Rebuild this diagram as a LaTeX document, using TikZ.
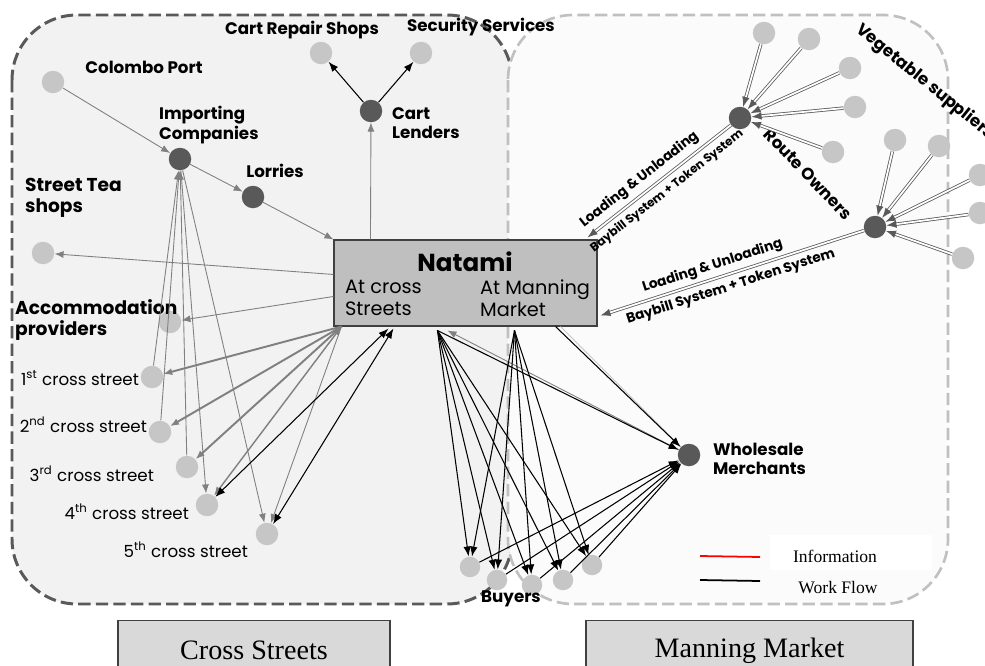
\documentclass[tikz,border=0pt]{standalone}
\usepackage{fontspec}
\setsansfont{Poppins}
\newfontfamily\bookserif{Liberation Serif}
\usepackage{tikz}
\usetikzlibrary{positioning,arrows.meta,calc,backgrounds}
\definecolor{LeftFill}{HTML}{F2F2F2}
\definecolor{RightFill}{HTML}{FBFBFB}
\definecolor{LeftDash}{HTML}{595959}
\definecolor{RightDash}{HTML}{C0C0C0}
\definecolor{SpotGray}{HTML}{C6C6C6}
\definecolor{HubGray}{HTML}{595959}
\definecolor{FeedGray}{HTML}{808080}
\definecolor{NatFill}{HTML}{BFBFBF}
\definecolor{BoxEdge}{HTML}{404040}
\definecolor{TabFill}{HTML}{D9D9D9}

\begin{document}
\begin{tikzpicture}[x=0.2mm, y=-0.2mm,
  every node/.style={font=\sffamily},
  spot/.style={circle, fill=SpotGray, minimum size=4.5mm, inner sep=0pt},
  hub/.style={circle, fill=HubGray, minimum size=4.5mm, inner sep=0pt},
  tag/.style={font=\sffamily\bfseries\fontsize{9.5}{11}\selectfont, align=left, inner sep=1pt},
  bigtag/.style={tag, font=\sffamily\bfseries\fontsize{10.6}{12}\selectfont},
  street/.style={font=\sffamily\fontsize{9.5}{11}\selectfont, anchor=east, inner sep=1pt},
  natbox/.style={draw=BoxEdge, line width=0.6pt, fill=NatFill, minimum width=52.6mm,
                 minimum height=17.2mm, inner sep=0pt},
  tab/.style={draw=BoxEdge, line width=0.6pt, fill=TabFill, minimum height=12mm,
              font=\bookserif\fontsize{16}{18}\selectfont},
  feed/.style={draw=FeedGray, line width=0.5pt, -{Latex[length=1.8mm,width=1.4mm]}},
  fan/.style={feed, line width=1.1pt},
  work/.style={draw=black, line width=0.6pt, -{Latex[length=2mm,width=1.5mm]}},
  supply/.style={draw=HubGray, double=white, double distance=1pt, line width=0.45pt,
                 -{Latex[length=2mm,width=1.5mm]}},
  lbl/.style={font=\sffamily\bfseries\fontsize{7.8}{8.5}\selectfont, sloped, inner sep=0.5pt},
  key/.style={font=\bookserif\fontsize{10}{12}\selectfont, inner sep=1pt}]

  \useasboundingbox (0,0) rectangle (985,666);

  % ---- the two market areas ----
  \begin{scope}[on background layer]
    \fill[white] (0,0) rectangle (985,666);
    \draw[LeftDash, line width=1.7pt, dash pattern=on 7pt off 3pt, fill=LeftFill,
          rounded corners=13mm] (12,15) rectangle (512,604);
    \draw[RightDash, line width=1.5pt, dash pattern=on 7pt off 3pt, fill=RightFill,
          rounded corners=13mm] (508,15) rectangle (948,604);
  \end{scope}

  % ---- Natami in the middle ----
  \node[natbox] (nat) at (465.5,283) {};
  \node[font=\sffamily\bfseries\fontsize{14}{16}\selectfont] (natt) at (465,262) {Natami};
  \node[anchor=west, align=left, font=\sffamily\fontsize{11}{12.5}\selectfont, inner sep=1pt]
        (natl) at (343,298) {At cross\\Streets};
  \node[anchor=west, align=left, font=\sffamily\fontsize{11}{12.5}\selectfont, inner sep=1pt]
        (natr) at (478,298) {At Manning\\Market};

  \coordinate (natlend) at ($(nat.north west)+(37,0)$);
  \coordinate (nattea)  at ($(nat.north west)+(0,35)$);
  \coordinate (natacc)  at ($(nat.north west)+(0,57)$);
  \coordinate (natfan)  at ($(nat.south west)+(8,0)$);
  \coordinate (natc4)   at ($(nat.south west)+(55,2)$);
  \coordinate (natc5)   at ($(nat.south west)+(60,2)$);
  \coordinate (natbl)   at ($(nat.south west)+(104,4)$);
  \coordinate (natwb)   at ($(nat.south west)+(114,4)$);
  \coordinate (natbr)   at ($(nat.south west)+(181,4)$);
  \coordinate (natwh)   at ($(nat.south east)+(-42,0)$);
  \coordinate (natwg)   at ($(nat.south east)+(-37,0)$);
  \coordinate (natro1)  at ($(nat.north east)+(-10,-2)$);
  \coordinate (natro2)  at ($(nat.south east)+(3,-11)$);

  % ---- cross streets side ----
  \node[spot] (port) at (53,82)  {};
  \node[tag] (portl) at (144,67) {Colombo Port};
  \node[hub]  (imp)  at (180,159) {};
  \node[tag, anchor=west] (impl) at (157,125) {Importing\\Companies};
  \node[hub]  (lor)  at (253,197) {};
  \node[tag] (lorl) at (275,171) {Lorries};
  \node[hub]  (lend) at (371,111) {};
  \node[tag, anchor=west] (lendl) at (390,123) {Cart\\Lenders};
  \node[spot] (rep)  at (321,53) {};
  \node[tag] (repl) at (302,30) {Cart Repair Shops};
  \node[spot] (sec)  at (421,53) {};
  \node[tag] (secl) at (481,27) {Security Services};
  \node[spot] (tea)  at (43,253) {};
  \node[bigtag, anchor=west] (teal) at (23,198) {Street Tea\\shops};
  \node[spot] (acc)  at (170,322) {};
  \node[bigtag, anchor=west] (accl) at (13,320) {Accommodation\\providers};

  \node[spot] (c1) at (152,377) {};
  \node[spot] (c2) at (160,432) {};
  \node[spot] (c3) at (187,467) {};
  \node[spot] (c4) at (207,505) {};
  \node[spot] (c5) at (267,534) {};
  \node[street] (c1l) at (141,378) {1\textsuperscript{st} cross street};
  \node[street] (c2l) at (149,425) {2\textsuperscript{nd} cross street};
  \node[street] (c3l) at (156,474) {3\textsuperscript{rd} cross street};
  \node[street] (c4l) at (191,512) {4\textsuperscript{th} cross street};
  \node[street] (c5l) at (250,550) {5\textsuperscript{th} cross street};

  % ---- manning market side ----
  \node[hub] (whole) at (689,455) {};
  \node[tag, anchor=west] (wholel) at (711,459) {Wholesale\\Merchants};

  \node[spot, minimum size=4.1mm] (buy1) at (470,567) {};
  \node[spot, minimum size=4.1mm] (buy2) at (497,580) {};
  \node[spot, minimum size=4.1mm] (buy3) at (532,585) {};
  \node[spot, minimum size=4.1mm] (buy4) at (563,580) {};
  \node[spot, minimum size=4.1mm] (buy5) at (592,565) {};
  \node[tag] (buyl) at (511,599) {Buyers};

  \node[hub] (ro1) at (740,118) {};
  \node[hub] (ro2) at (875,227) {};
  \node[tag, rotate=-46] (rol) at (808,174) {Route Owners};

  \node[spot] (veg1)  at (764,33)  {};
  \node[spot] (veg2)  at (809,39)  {};
  \node[spot] (veg3)  at (850,68)  {};
  \node[spot] (veg4)  at (855,107) {};
  \node[spot] (veg5)  at (833,152) {};
  \node[spot] (veg6)  at (895,140) {};
  \node[spot] (veg7)  at (939,146) {};
  \node[spot] (veg8)  at (980,175) {};
  \node[spot] (veg9)  at (980,213) {};
  \node[spot] (veg10) at (963,258) {};
  \node[tag, rotate=-39] (vegl) at (925,82) {Vegetable suppliers};

  % ---- gray flows ----
  \draw[feed] (port) -- (imp);
  \draw[feed] (imp) -- (lor);
  \draw[feed] (lor) -- (nat.north west);
  \draw[feed] (natlend) -- (lend);
  \draw[feed] (nattea) -- (tea);
  \draw[feed] (natacc) -- (acc);
  \draw[fan] (natfan) -- (c1);
  \draw[fan] (natfan) -- (c2);
  \draw[fan] (natfan) -- (c3);
  \draw[feed, line width=0.8pt, <->, >={Latex[length=1.8mm,width=1.4mm]}] (natfan) -- (c4);
  \draw[feed] (natfan) -- (c5);
  \draw[feed] (c1) -- (imp);
  \draw[feed] (c2) -- (imp);
  \draw[feed] (c3) -- (imp);
  \draw[feed] (imp) -- (c4);
  \draw[feed] (imp) -- (c5);
  \draw[feed] (whole) -- (natwb);
  \draw[draw=SpotGray, line width=0.5pt] (natwg) -- (whole);

  % ---- work flow ----
  \draw[work] (lend) -- (rep);
  \draw[work] (lend) -- (sec);
  \draw[work, <->, >={Latex[length=2mm,width=1.5mm]}] (natc4) -- (c4);
  \draw[work, <->, >={Latex[length=2mm,width=1.5mm]}] (natc5) -- (c5);
  \draw[work] (natbl) -- (whole);
  \draw[work] (natwh) -- (whole);
  \foreach \b in {1,...,5} {
    \draw[work] (natbl) -- (buy\b);
    \draw[work] (natbr) -- (buy\b);
    \draw[work] (buy\b) -- (whole);
  }

  % ---- suppliers and route owners ----
  \foreach \v in {1,...,5} \draw[supply] (veg\v) -- (ro1);
  \foreach \v in {6,...,10} \draw[supply] (veg\v) -- (ro2);
  \draw[supply] (ro1) -- node[lbl, above=1mm, pos=0.58] {Loading \& Unloading}
        node[lbl, below=1mm, pos=0.5, font=\sffamily\bfseries\fontsize{6.8}{7.5}\selectfont]
        {Baybill System + Token System} (natro1);
  \draw[supply] (ro2) -- node[lbl, above=0.8mm, pos=0.56] {Loading \& Unloading}
        node[lbl, below=0.8mm, pos=0.52] {Baybill System + Token System} (natro2);

  % ---- legend ----
  \node[fill=white, minimum width=32.4mm, minimum height=7mm] (infobg) at (851,552) {};
  \node[key] (info) at (835,556) {Information};
  \node[key] (wflow) at (838,588) {Work Flow};
  \draw[red, line width=1pt] (700,556) -- (760,557);
  \draw[black, line width=1pt] (700,580) -- (760,581);

  % ---- area captions ----
  \node[tab, anchor=north, minimum width=54.4mm] (tabcs) at (254,620) {Cross Streets};
  \node[tab, anchor=north, minimum width=65.4mm] (tabmm) at (749.5,620) {Manning Market};

\end{tikzpicture}
\end{document}
